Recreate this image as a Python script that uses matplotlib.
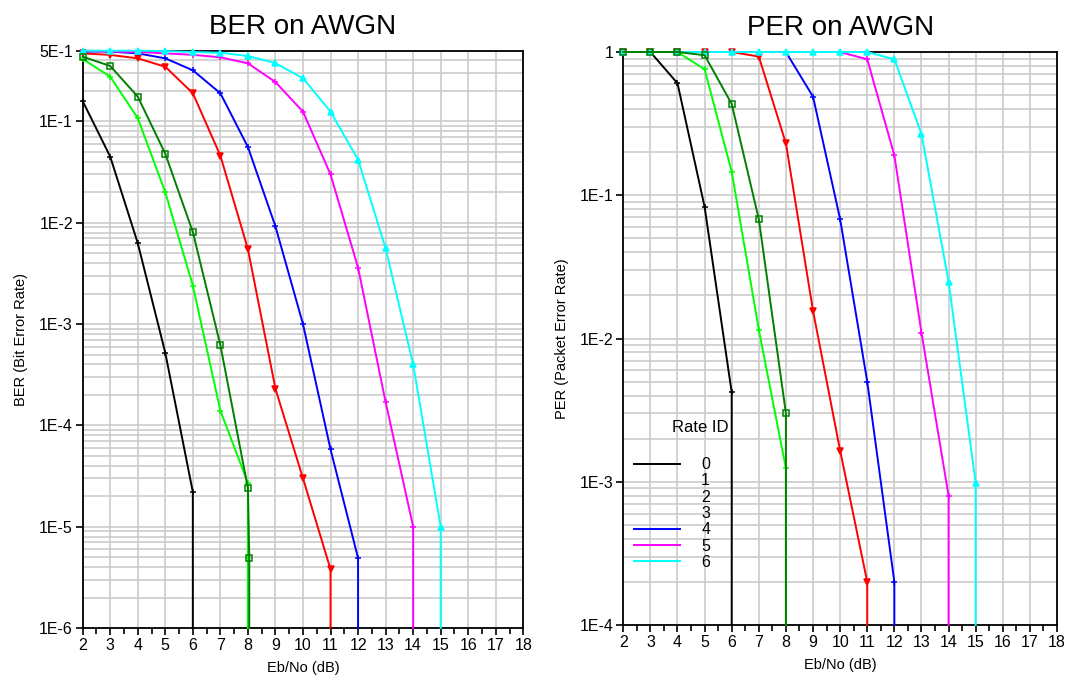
import matplotlib
matplotlib.use('Agg')
import matplotlib.pyplot as plt
from matplotlib.ticker import MultipleLocator, FixedLocator, LogLocator, NullFormatter
from matplotlib.lines import Line2D

plt.rcParams['font.family'] = ['Liberation Sans', 'DejaVu Sans']

# Rate IDs and their colours
rate_ids = ['0', '1', '2', '3', '4', '5', '6']
rate_colors = ['#000000', '#00ff00', '#008000', '#ff0000', '#0000ff', '#ff00ff', '#00ffff']
rate_markers = ['+', '+', 's', 'v', '+', '+', '^']
legend_shown = [True, False, False, False, True, True, True]

# BER curves (last point of each = zero errors, drawn at the axis floor)
ber_x = [
    [2, 3, 4, 5, 6, 6],
    [2, 3, 4, 5, 6, 7, 8, 8],
    [2, 3, 4, 5, 6, 7, 8, 8.05, 8.05],
    [2, 3, 4, 5, 6, 7, 8, 9, 10, 11, 11],
    [2, 3, 4, 5, 6, 7, 8, 9, 10, 11, 12, 12],
    [2, 3, 4, 5, 6, 7, 8, 9, 10, 11, 12, 13, 14, 14],
    [2, 3, 4, 5, 6, 7, 8, 9, 10, 11, 12, 13, 14, 15, 15],
]
ber_y = [
    [0.159, 0.045, 0.0063, 5.2e-4, 2.2e-5, 1e-6],
    [0.414, 0.277, 0.108, 0.020, 0.0024, 1.4e-4, 2.7e-5, 1e-6],
    [0.436, 0.353, 0.176, 0.048, 0.0081, 6.2e-4, 2.4e-5, 4.9e-6, 1e-6],
    [0.47, 0.454, 0.42, 0.347, 0.19, 0.046, 0.0055, 2.3e-4, 3.0e-5, 3.8e-6, 1e-6],
    [0.49, 0.49, 0.47, 0.42, 0.32, 0.19, 0.056, 0.0092, 1.0e-3, 5.8e-5, 4.9e-6, 1e-6],
    [0.5, 0.49, 0.485, 0.47, 0.455, 0.43, 0.375, 0.245, 0.125, 0.030, 0.0036, 1.7e-4, 1e-5, 1e-6],
    [0.5, 0.5, 0.5, 0.495, 0.485, 0.477, 0.443, 0.376, 0.267, 0.125, 0.042, 0.0056, 4.0e-4, 1.0e-5, 1e-6],
]

# PER curves
per_x = [
    [2, 3, 4, 5, 6, 6],
    [2, 3, 4, 5, 6, 7, 8, 8],
    [2, 3, 4, 5, 6, 7, 8, 8],
    [2, 3, 4, 5, 6, 7, 8, 9, 10, 11, 11],
    [2, 3, 4, 5, 6, 7, 8, 9, 10, 11, 12, 12],
    [2, 3, 4, 5, 6, 7, 8, 9, 10, 11, 12, 13, 14, 14],
    [2, 3, 4, 5, 6, 7, 8, 9, 10, 11, 12, 13, 14, 15, 15],
]
per_y = [
    [1, 1, 0.605, 0.083, 0.0042, 1e-4],
    [1, 1, 1, 0.757, 0.146, 0.0115, 1.24e-3, 1e-4],
    [1, 1, 1, 0.95, 0.434, 0.068, 3.0e-3, 1e-4],
    [1, 1, 1, 1, 1, 0.93, 0.23, 0.0156, 1.65e-3, 2.0e-4, 1e-4],
    [1, 1, 1, 1, 1, 1, 1, 0.488, 0.068, 0.005, 2.0e-4, 1e-4],
    [1, 1, 1, 1, 1, 1, 1, 1, 1, 0.89, 0.19, 0.011, 8.0e-4, 1e-4],
    [1, 1, 1, 1, 1, 1, 1, 1, 1, 1, 0.89, 0.268, 0.025, 9.8e-4, 1e-4],
]

ber_ticks = [0.5, 1e-1, 1e-2, 1e-3, 1e-4, 1e-5, 1e-6]
ber_ticklabels = ['5E-1', '1E-1', '1E-2', '1E-3', '1E-4', '1E-5', '1E-6']
per_ticks = [1, 1e-1, 1e-2, 1e-3, 1e-4]
per_ticklabels = ['1', '1E-1', '1E-2', '1E-3', '1E-4']

# dark green last so it sits on top, like the original
draw_order = [0, 1, 3, 4, 5, 6, 2]


def styleAxes(ax, yticks, yticklabels, ylim, title, ylabel):
    """ Common look of both panels. """

    ax.set_yscale('log')
    ax.set_xlim(2, 18)
    ax.set_ylim(*ylim)

    ax.xaxis.set_major_locator(MultipleLocator(1))
    ax.xaxis.set_minor_locator(MultipleLocator(0.5))
    ax.yaxis.set_major_locator(FixedLocator(yticks))
    ax.set_yticklabels(yticklabels)
    ax.yaxis.set_minor_locator(LogLocator(base=10, subs=range(2, 10), numticks=20))
    ax.yaxis.set_minor_formatter(NullFormatter())

    ax.tick_params(axis='both', which='major', direction='out', length=5, width=1.2,
                   labelsize=11.5, pad=2)
    ax.tick_params(axis='x', which='minor', direction='out', length=4, width=1.2)
    ax.tick_params(axis='y', which='minor', length=0)

    ax.grid(True, which='both', axis='y', color='#cccccc', linewidth=1.2)
    ax.grid(True, which='major', axis='x', color='#cccccc', linewidth=1.2)
    ax.set_axisbelow(True)

    for side in ax.spines:
        ax.spines[side].set_linewidth(1.3)
        ax.spines[side].set_color('black')

    ax.set_title(title, fontsize=20, pad=12)
    ax.set_xlabel('Eb/No (dB)', fontsize=10.5, labelpad=6)
    ax.set_ylabel(ylabel, fontsize=10.5, labelpad=8)


def drawCurves(ax, xs, ys):
    """ Plot one curve per rate, no marker on the floor point. """

    for i in draw_order:
        mfc = 'none' if rate_markers[i] == 's' else rate_colors[i]
        ax.plot(xs[i], ys[i], color=rate_colors[i], linewidth=1.4, marker=rate_markers[i],
                markersize=4, markeredgewidth=1.1, markerfacecolor=mfc,
                markevery=slice(0, len(xs[i]) - 1), clip_on=False, zorder=3)


fig = plt.figure(figsize=(10.68, 6.81), dpi=100)

# BER panel
ax_ber = fig.add_axes([0.0774, 0.0778, 0.4126, 0.8478])
drawCurves(ax_ber, ber_x, ber_y)
styleAxes(ax_ber, ber_ticks, ber_ticklabels, (1e-6, 0.5), 'BER on AWGN', 'BER (Bit Error Rate)')

# PER panel
ax_per = fig.add_axes([0.5836, 0.0822, 0.4061, 0.8414])
drawCurves(ax_per, per_x, per_y)
styleAxes(ax_per, per_ticks, per_ticklabels, (1e-4, 1), 'PER on AWGN', 'PER (Packet Error Rate)')

# Legend, lines for rates 1-3 are not shown in the original
handles = [Line2D([], [], color=(c if shown else 'none'), linewidth=1.4)
           for c, shown in zip(rate_colors, legend_shown)]
ax_per.legend(handles, rate_ids, loc='upper left', bbox_to_anchor=(0.025, 0.293),
              frameon=False, fontsize=11.5, handlelength=2.9, handletextpad=1.3,
              labelspacing=0.08, borderpad=0, borderaxespad=0)
ax_per.text(0.177, 0.3455, 'Rate ID', transform=ax_per.transAxes, fontsize=12,
            ha='center', va='center')

fig.savefig('out.png', dpi=100)
